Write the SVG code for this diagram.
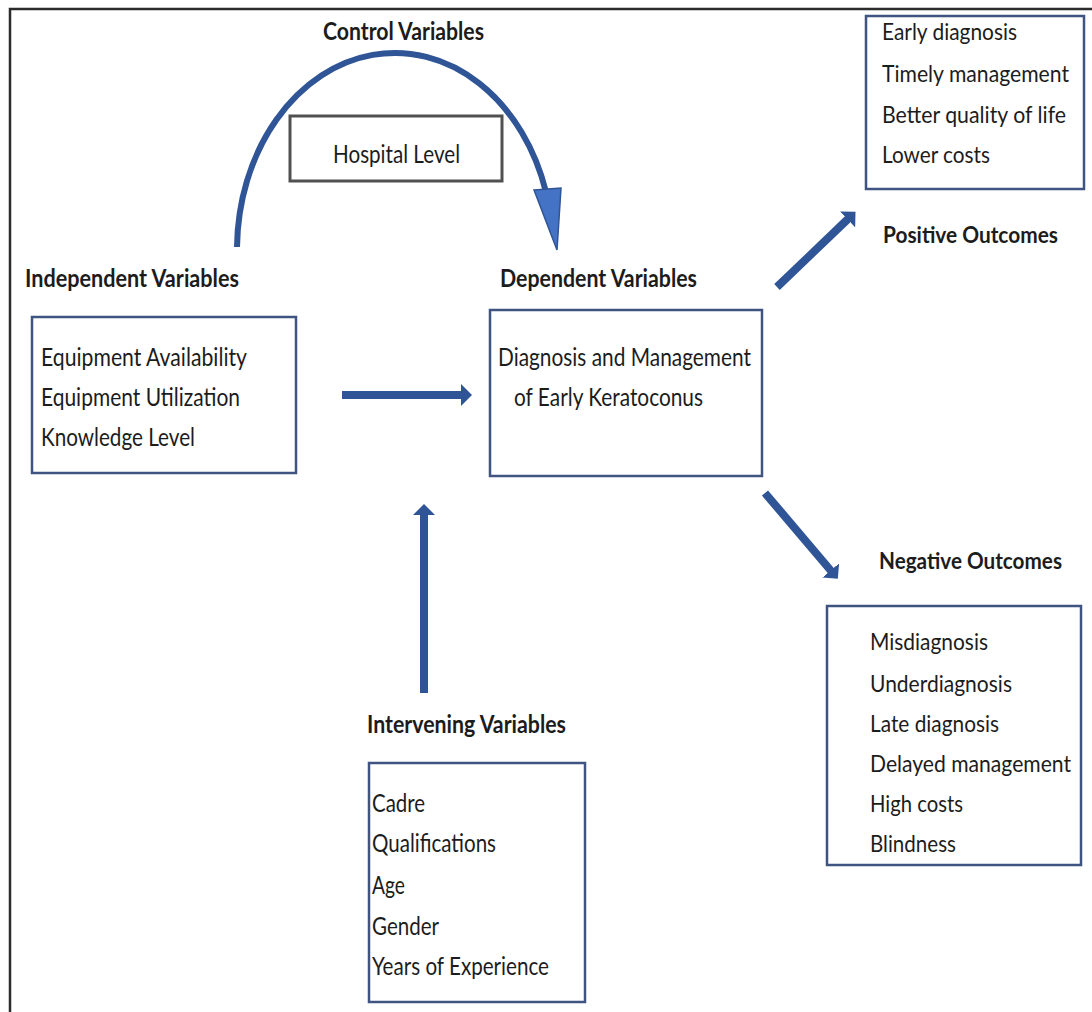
<svg xmlns="http://www.w3.org/2000/svg" width="1092" height="1012" viewBox="0 0 1092 1012">
<style>
text{font-family:Lato,"Liberation Sans",sans-serif;font-size:25px;fill:#1c1c1c}
.h{font-weight:bold}
.r text{font-size:23px}
.box{fill:#fff;stroke:#3f5480;stroke-width:2.5}
.conn{stroke:#2f5597;stroke-width:8;fill:none}
</style>
<defs>
<marker id="ah" markerUnits="userSpaceOnUse" markerWidth="12" markerHeight="22" refX="2" refY="11" orient="auto">
<path d="M0,0 L11,11 L0,22 z" fill="#2f5597"/>
</marker>
</defs>
<rect x="0" y="0" width="1092" height="1012" fill="#fff"/>
<path d="M10,1012 L10,9 L1092,9" fill="none" stroke="#2b2b2b" stroke-width="2.5"/>

<g id="connectors">
<path d="M237,247 A158,197 0 0 1 546,192" fill="none" stroke="#2f5597" stroke-width="6"/>
<polygon points="534,190 561,188 557,250" fill="#4472c4" stroke="#2f5597" stroke-width="1.5"/>
<line class="conn" x1="342" y1="395" x2="463" y2="395" marker-end="url(#ah)"/>
<line class="conn" x1="424" y1="693" x2="424" y2="513" marker-end="url(#ah)"/>
<line class="conn" x1="777" y1="287" x2="849" y2="218" marker-end="url(#ah)"/>
<line class="conn" x1="765" y1="493" x2="832" y2="572" marker-end="url(#ah)"/>
</g>

<g id="control">
<text class="h" x="323" y="40" textLength="161" lengthAdjust="spacingAndGlyphs">Control Variables</text>
</g>
<g id="hospital">
<rect x="290" y="116" width="212" height="65" fill="#fff" stroke="#505050" stroke-width="3"/>
<text x="333" y="163" textLength="127" lengthAdjust="spacingAndGlyphs">Hospital Level</text>
</g>

<g id="independent">
<text class="h" x="25" y="287" textLength="214" lengthAdjust="spacingAndGlyphs">Independent Variables</text>
<rect class="box" x="32" y="317" width="264" height="156"/>
<text x="41" y="366" textLength="206" lengthAdjust="spacingAndGlyphs">Equipment Availability</text>
<text x="41" y="406" textLength="199" lengthAdjust="spacingAndGlyphs">Equipment Utilization</text>
<text x="41" y="446" textLength="154" lengthAdjust="spacingAndGlyphs">Knowledge Level</text>
</g>

<g id="dependent">
<text class="h" x="500" y="287" textLength="197" lengthAdjust="spacingAndGlyphs">Dependent Variables</text>
<rect class="box" x="490" y="310" width="272" height="166"/>
<text x="498" y="366" textLength="253" lengthAdjust="spacingAndGlyphs">Diagnosis and Management</text>
<text x="514" y="406" textLength="189" lengthAdjust="spacingAndGlyphs">of Early Keratoconus</text>
</g>

<g id="intervening">
<text class="h" x="367" y="733" textLength="199" lengthAdjust="spacingAndGlyphs">Intervening Variables</text>
<rect class="box" x="369" y="763" width="216" height="239"/>
<text x="372" y="812" textLength="53" lengthAdjust="spacingAndGlyphs">Cadre</text>
<text x="372" y="852" textLength="124" lengthAdjust="spacingAndGlyphs">Qualifications</text>
<text x="372" y="894" textLength="33" lengthAdjust="spacingAndGlyphs">Age</text>
<text x="372" y="935" textLength="67" lengthAdjust="spacingAndGlyphs">Gender</text>
<text x="372" y="975" textLength="177" lengthAdjust="spacingAndGlyphs">Years of Experience</text>
</g>

<g id="positive" class="r">
<text class="h" x="883" y="243" textLength="175" lengthAdjust="spacingAndGlyphs">Positive Outcomes</text>
<rect class="box" x="866" y="16" width="218" height="173"/>
<text x="882" y="40" textLength="135" lengthAdjust="spacingAndGlyphs">Early diagnosis</text>
<text x="882" y="82" textLength="187" lengthAdjust="spacingAndGlyphs">Timely management</text>
<text x="882" y="123" textLength="184" lengthAdjust="spacingAndGlyphs">Better quality of life</text>
<text x="882" y="163" textLength="108" lengthAdjust="spacingAndGlyphs">Lower costs</text>
</g>

<g id="negative" class="r">
<text class="h" x="879" y="569" textLength="183" lengthAdjust="spacingAndGlyphs">Negative Outcomes</text>
<rect class="box" x="827" y="606" width="254" height="259"/>
<text x="870" y="650" textLength="118" lengthAdjust="spacingAndGlyphs">Misdiagnosis</text>
<text x="870" y="692" textLength="142" lengthAdjust="spacingAndGlyphs">Underdiagnosis</text>
<text x="870" y="732" textLength="129" lengthAdjust="spacingAndGlyphs">Late diagnosis</text>
<text x="870" y="772" textLength="201" lengthAdjust="spacingAndGlyphs">Delayed management</text>
<text x="870" y="812" textLength="93" lengthAdjust="spacingAndGlyphs">High costs</text>
<text x="870" y="852" textLength="86" lengthAdjust="spacingAndGlyphs">Blindness</text>
</g>
</svg>
